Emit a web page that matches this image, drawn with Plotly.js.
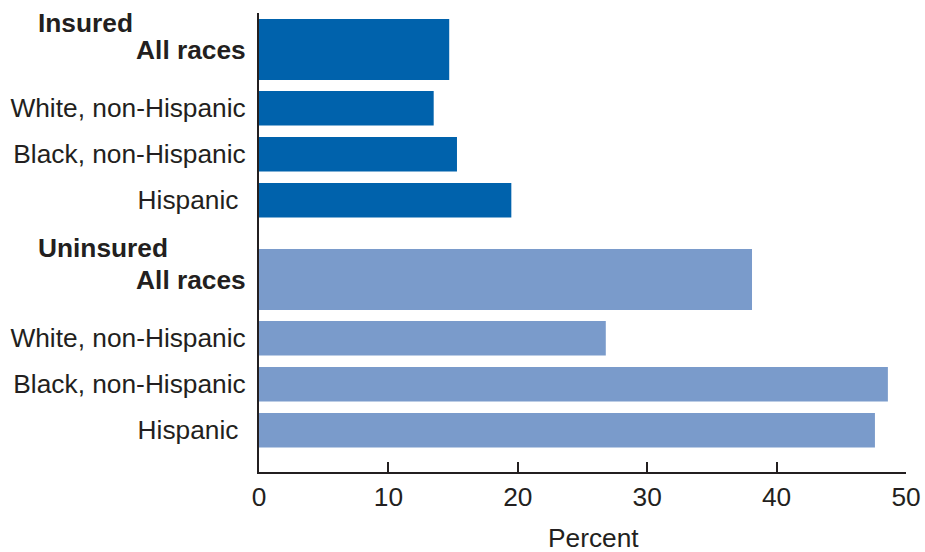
<!DOCTYPE html>
<html>
<head>
<meta charset="utf-8">
<script src="https://cdn.plot.ly/plotly-3.0.1.min.js"></script>
<style>html,body{margin:0;padding:0;background:#fff;}#chart{width:925px;height:552px;}</style>
</head>
<body>
<div id="chart"></div>
<script>
// ---- data ----
const groups = ['Insured', 'Uninsured'];
const categories = ['All races', 'White, non-Hispanic', 'Black, non-Hispanic', 'Hispanic'];
const insuredValues = [14.7, 13.5, 15.3, 19.5];
const uninsuredValues = [38.1, 26.8, 48.6, 47.6];
const xTickValues = [0, 10, 20, 30, 40, 50];

// ---- layout helpers (positions, not data) ----
const groupTops = [6, 236];
const rowCenters = [30.5, 89.25, 135.25, 181.25];
const rowWidths = [61, 34.5, 34.5, 34.5];
const colors = ['#0062ac', '#7a9bcb'];
const textColor = '#231f20';
const font = 'Liberation Sans, Arial, sans-serif';
const fs = 26.3;

const seriesValues = [insuredValues, uninsuredValues];
const traces = [];
const tickvals = [];
const ticktext = [];
groups.forEach((g, gi) => {
  const ys = rowCenters.map(c => groupTops[gi] + c);
  traces.push({
    type: 'bar',
    orientation: 'h',
    name: g,
    x: seriesValues[gi],
    y: ys,
    width: rowWidths,
    marker: {color: colors[gi]},
    hoverinfo: 'x'
  });
  categories.forEach((c, ci) => {
    tickvals.push(ys[ci]);
    let t = ci === 0 ? '<b>' + c + '</b>' : c;
    if (c === 'Hispanic') t = c + '\u00a0';
    ticktext.push(t);
  });
});

const annotations = groups.map((g, gi) => ({
  text: '<b>' + g + '</b>',
  xref: 'paper', yref: 'y',
  x: (36 - 259) / 647.5, y: gi === 0 ? 9.5 : 235,
  xanchor: 'left', yanchor: 'middle',
  showarrow: false,
  font: {family: font, size: fs, color: textColor}
}));
annotations.push({
  text: 'Percent',
  xref: 'paper', yref: 'paper',
  x: (593.5 - 259) / 647.5, y: -66 / 459,
  xanchor: 'center', yanchor: 'middle',
  showarrow: false, borderpad: 0,
  font: {family: font, size: fs, color: textColor}
});

const layout = {
  width: 925, height: 552,
  margin: {l: 259, r: 18.5, t: 13, b: 80, pad: 0},
  paper_bgcolor: '#fff', plot_bgcolor: '#fff',
  showlegend: false,
  font: {family: font, size: fs, color: textColor},
  xaxis: {
    range: [0, 50],
    tickvals: xTickValues,
    ticks: 'inside', ticklen: 10, tickwidth: 2, tickcolor: textColor,
    showline: true, linewidth: 2, linecolor: textColor,
    showgrid: false, zeroline: false,
    tickfont: {family: font, size: fs, color: textColor},
    fixedrange: true
  },
  yaxis: {
    range: [459, 0],
    tickvals: tickvals, ticktext: ticktext,
    ticks: '', showline: true, linewidth: 2, linecolor: textColor,
    showgrid: false, zeroline: false,
    ticklabelstandoff: 6,
    tickfont: {family: font, size: fs, color: textColor},
    fixedrange: true
  },
  annotations: annotations
};

Plotly.newPlot('chart', traces, layout, {displayModeBar: false, staticPlot: true});
</script>
</body>
</html>
